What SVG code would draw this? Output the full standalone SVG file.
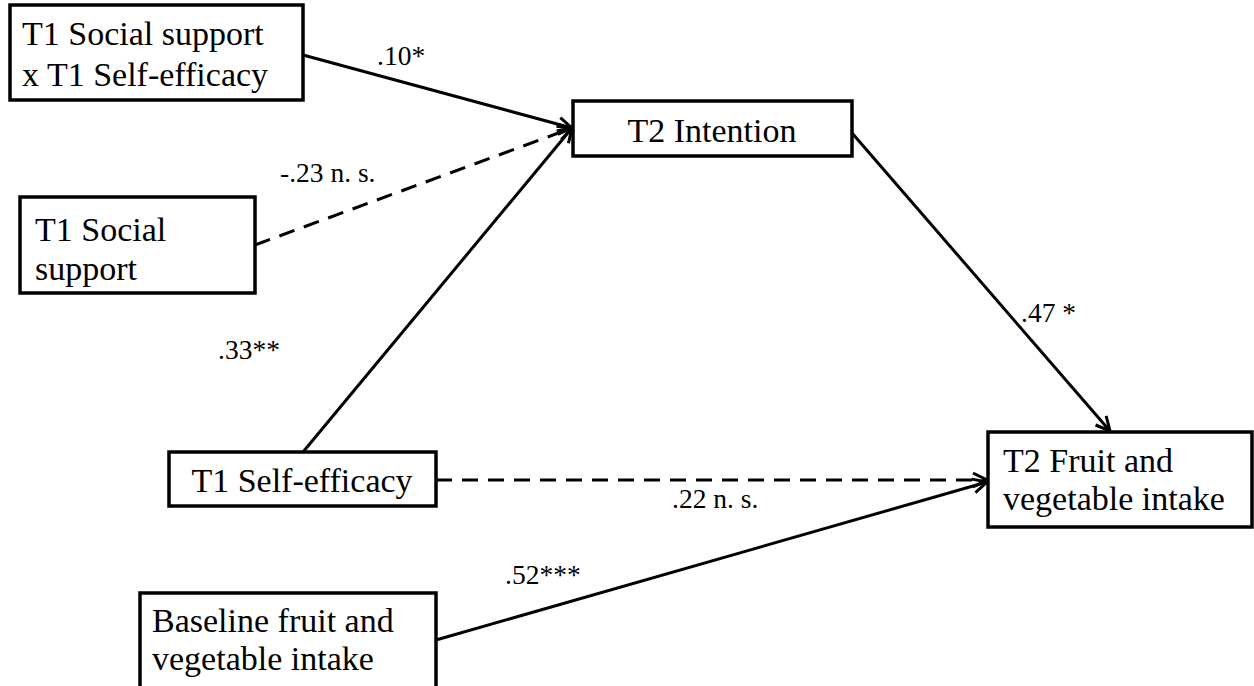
<svg xmlns="http://www.w3.org/2000/svg" width="1254" height="686" viewBox="0 0 1254 686">
<style>
.box{fill:#fff;stroke:#000;stroke-width:3.5}
.t{font-family:'Liberation Serif','Times New Roman',serif;font-size:34px;fill:#000}
.l{font-family:'Liberation Serif','Times New Roman',serif;font-size:27.5px;fill:#000}
.e{fill:none;stroke:#000;stroke-width:3}
.d{stroke-dasharray:16 10}
</style>
<defs>
<marker id="ah" viewBox="0 0 20 20" refX="18" refY="10" markerWidth="20" markerHeight="20" markerUnits="userSpaceOnUse" orient="auto">
<path d="M4,3 L18,10 L4,17" fill="none" stroke="#000" stroke-width="3"/>
</marker>
</defs>
<g id="connectors">
<line class="e" x1="303" y1="55" x2="572" y2="128" marker-end="url(#ah)"/>
<line class="e d" x1="255" y1="245" x2="572" y2="128" marker-end="url(#ah)"/>
<line class="e" x1="303" y1="452" x2="572" y2="128" marker-end="url(#ah)"/>
<line class="e" x1="852" y1="133" x2="1110" y2="431" marker-end="url(#ah)"/>
<line class="e d" x1="436" y1="480" x2="987" y2="480" marker-end="url(#ah)"/>
<line class="e" x1="436" y1="640" x2="987" y2="482" marker-end="url(#ah)"/>
<text class="l" x="377" y="65">.10*</text>
<text class="l" x="280" y="182">-.23 n. s.</text>
<text class="l" x="218" y="359">.33**</text>
<text class="l" x="1021" y="322">.47 *</text>
<text class="l" x="672" y="508">.22 n. s.</text>
<text class="l" x="505" y="584">.52***</text>
</g>
<g id="n1">
<rect class="box" x="10" y="5" width="293" height="95"/>
<text class="t" x="22" y="45">T1 Social support</text>
<text class="t" x="22" y="86">x T1 Self-efficacy</text>
</g>
<g id="n2">
<rect class="box" x="20" y="197" width="235" height="96"/>
<text class="t" x="35" y="241">T1 Social</text>
<text class="t" x="35" y="280">support</text>
</g>
<g id="n3">
<rect class="box" x="573" y="101" width="279" height="55"/>
<text class="t" x="712" y="142" text-anchor="middle">T2 Intention</text>
</g>
<g id="n4">
<rect class="box" x="169" y="452" width="267" height="54"/>
<text class="t" x="302" y="492" text-anchor="middle">T1 Self-efficacy</text>
</g>
<g id="n5">
<rect class="box" x="988" y="432" width="264" height="95"/>
<text class="t" x="1003" y="472">T2 Fruit and</text>
<text class="t" x="1003" y="510">vegetable intake</text>
</g>
<g id="n6">
<rect class="box" x="140" y="593" width="296" height="100"/>
<text class="t" x="152" y="632">Baseline fruit and</text>
<text class="t" x="152" y="670">vegetable intake</text>
</g>
</svg>
